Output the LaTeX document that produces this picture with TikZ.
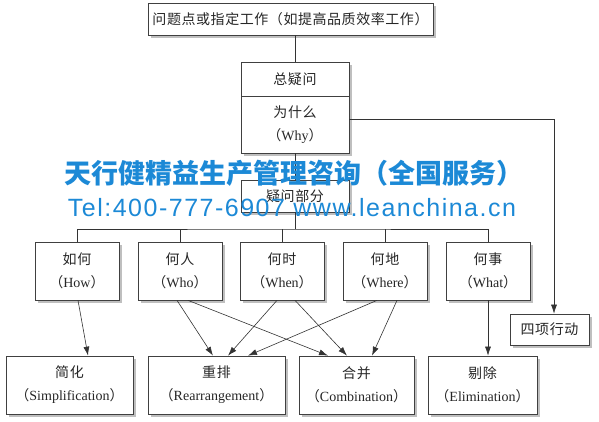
\documentclass[tikz,border=0pt]{standalone}
\usepackage{fontspec}
\setmainfont{Liberation Serif}
\newfontfamily\cjk[LetterSpace=4]{Noto Sans CJK SC}
\newfontfamily\wmcjk{Noto Sans CJK SC}
\newfontfamily\wmlatin[LetterSpace=6]{Liberation Sans}
\usetikzlibrary{arrows.meta,shadows}
\definecolor{wmblue}{RGB}{28,137,214}
\newcommand{\en}[1]{{\cjk （}#1{\cjk ）}}
\tikzset{
	box/.style={draw=black!75, line width=0.7pt, fill=white, text=black!85, align=center, inner sep=0pt,
		font=\fontsize{14}{23}\selectfont,
		drop shadow={shadow xshift=3pt, shadow yshift=-3pt, fill=black!25, opacity=1}},
	qbox/.style={box, minimum width=84pt, minimum height=58pt},
	rbox/.style={box, minimum height=58pt},
	link/.style={draw=black!80, line width=0.6pt},
	arr/.style={link, -{Latex[length=9pt,width=6pt]}},
	wm/.style={text=wmblue, inner sep=0pt}
}
\begin{document}
\begin{tikzpicture}[x=1pt,y=-1pt]
			\useasboundingbox (0,0) rectangle (599,422);
			
			\node[box, minimum width=285pt, minimum height=32pt] (top) at (290.5,19) {\cjk 问题点或指定工作（如提高品质效率工作）};
			\node[box, minimum width=108pt, minimum height=34pt] (zong) at (295,79) {\cjk 总疑问};
			\node[box, minimum width=108pt, minimum height=57pt] (why) at (295,124.5) {{\cjk 为什么}\\\en{Why}};
			\node[box, minimum width=108pt, minimum height=32pt] (part) at (295,196) {\cjk 疑问部分};
			
			\node[qbox] (how) at (77,271) {{\cjk 如何}\\\en{How}};
			\node[qbox] (who) at (180,271) {{\cjk 何人}\\\en{Who}};
			\node[qbox] (when) at (282,271) {{\cjk 何时}\\\en{When}};
			\node[qbox] (where) at (385,271) {{\cjk 何地}\\\en{Where}};
			\node[qbox] (what) at (488,271) {{\cjk 何事}\\\en{What}};
			\node[box, minimum width=79pt, minimum height=31pt] (act) at (549.5,329.5) {\cjk 四项行动};
			
			\node[rbox, minimum width=127pt] (jian) at (69.5,385) {{\cjk 简化}\\\en{Simplification}};
			\node[rbox, minimum width=137pt] (chong) at (216.5,385) {{\cjk 重排}\\\en{Rearrangement}};
			\node[rbox, minimum width=115pt] (he) at (356.5,385) {{\cjk 合并}\\\en{Combination}};
			\node[rbox, minimum width=109pt] (ti) at (482.5,385) {{\cjk 剔除}\\\en{Elimination}};
			
			\draw[link] (zong.north |- top.south) -- (zong.north);
			\draw[link] (why.south) -- (part.north);
			\coordinate (bus) at (295,229);
			\draw[link] (part.south) -- (bus);
			\draw[link] (how.north) |- (bus) -| (what.north);
			\foreach \n in {who,when,where} {
				\draw[link] (\n.north) -- (\n.north |- bus);
			}
			\draw[arr] ([yshift=5.5pt]why.east) -| ([xshift=4.5pt]act.north);
			
			\draw[arr] ([xshift=1pt]how.south) -- ([xshift=18.5pt]jian.north);
			\draw[arr] ([xshift=-3pt]who.south) -- ([xshift=-3.5pt]chong.north);
			\draw[arr] ([xshift=8pt]who.south) -- ([xshift=-28.5pt]he.north);
			\draw[arr] ([xshift=-5pt]when.south) -- ([xshift=11.5pt]chong.north);
			\draw[arr] ([xshift=13pt]when.south) -- ([xshift=-9.5pt]he.north);
			\draw[arr] ([xshift=-8pt]where.south) -- ([xshift=31.5pt]chong.north);
			\draw[arr] ([xshift=12pt]where.south) -- ([xshift=15.5pt]he.north);
			\draw[arr] (what.south) -- ([xshift=5.5pt]ti.north);
			
			\node[wm, font=\wmcjk\bfseries\fontsize{27}{27}\selectfont] (wmname) at (294,173) {天行健精益生产管理咨询（全国服务）};
			\node[wm, font=\wmlatin\fontsize{25}{25}\selectfont] (wmtel) at (292,208) {Tel:400-777-6907 www.leanchina.cn};
\end{tikzpicture}
\end{document}
